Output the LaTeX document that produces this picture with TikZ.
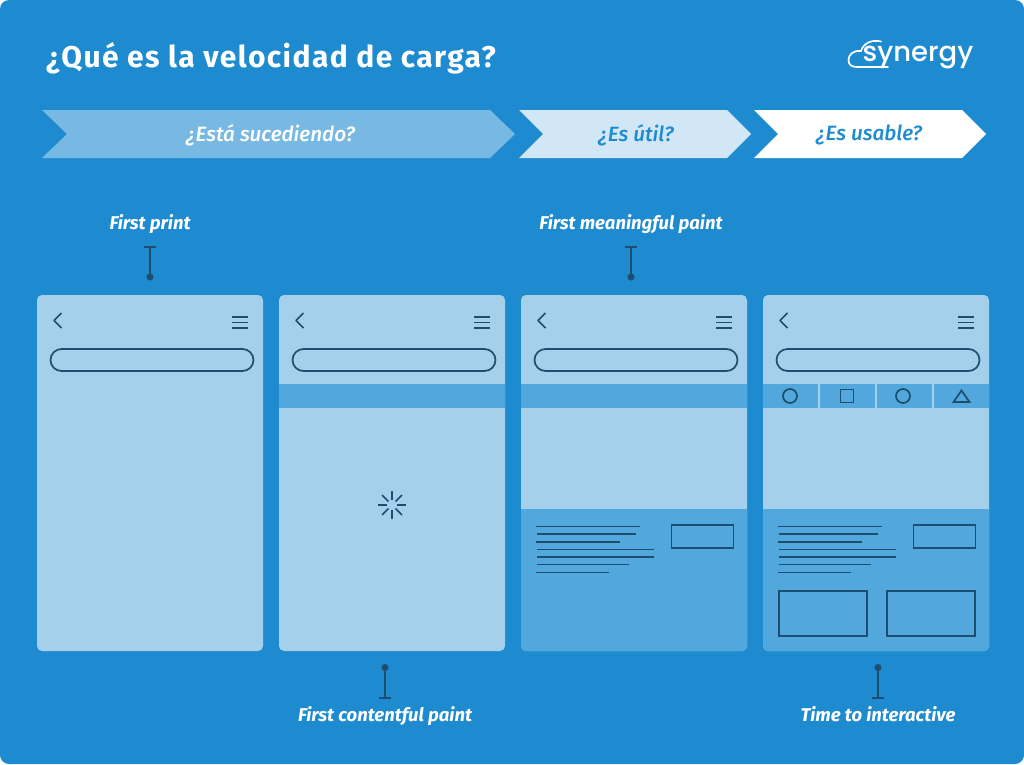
\documentclass[tikz,border=0pt]{standalone}
\usepackage{fontspec}
\setmainfont{Fira Sans}
\newfontfamily\logofont{Poppins Medium}
\newfontfamily\titlefont[LetterSpace=4.7]{Fira Sans}
\newfontfamily\stepfont{Fira Sans Medium}
\usetikzlibrary{arrows.meta,positioning,calc}
\definecolor{bgblue}{HTML}{1E8BD0}
\definecolor{paleblue}{HTML}{A4D0EB}
\definecolor{midblue}{HTML}{52A8DC}
\definecolor{arrowblue}{HTML}{77B9E3}
\definecolor{lightblue}{HTML}{D2E7F6}
\definecolor{inkblue}{HTML}{1D4E70}
\tikzset{
	screenbox/.style={fill=paleblue,rounded corners=5pt,minimum width=226pt,minimum height=356pt,inner sep=0pt,outer sep=0pt},
	ink/.style={draw=inkblue,line width=1.7pt},
	marker/.style={draw=inkblue,line width=1.7pt,{Bar[width=12pt,line width=1.7pt]}-{Circle[length=7pt]}},
	marklabel/.style={text=white,anchor=base,font=\fontsize{18.5}{22}\selectfont\bfseries\itshape},
	steplabel/.style={font=\fontsize{20.7}{24}\selectfont\stepfont\itshape}
}
\begin{document}
\begin{tikzpicture}[x=1pt,y=-1pt]
		% background
		\fill[white] (0,0) rectangle (1024,764);
		\fill[bgblue,rounded corners=9pt] (0,0) rectangle (1024,764);
		\node[text=white,anchor=west,inner sep=0pt,font=\fontsize{30}{36}\selectfont\titlefont\bfseries] (title) at (46,58) {¿Qué es la velocidad de carga?};

		% logo
		\draw[white,line width=1.7pt,line cap=round] (881,41.5) .. controls (871,39) and (863,44) .. (861,51) .. controls (853,50) and (848.5,55) .. (848.5,60) .. controls (848.5,65) and (852,67) .. (857,67) -- (888,67);
		\node[text=white,inner sep=0pt,font=\fontsize{27.5}{30}\selectfont\logofont] (logo) at (918,58) {synergy};

		% steps
		\fill[arrowblue] (42,110) -- (490,110) -- (515,134) -- (490,158) -- (42,158) -- (67,134) -- cycle;
		\fill[lightblue] (519,110) -- (727,110) -- (751,134) -- (727,158) -- (519,158) -- (543,134) -- cycle;
		\fill[white] (754,110) -- (962,110) -- (986,134) -- (962,158) -- (754,158) -- (778,134) -- cycle;
		\node[steplabel,text=white] (step1) at (270.5,135) {¿Está sucediendo?};
		\node[steplabel,text=bgblue] (step2) at (636,135) {¿Es útil?};
		\node[steplabel,text=bgblue] (step3) at (869,135) {¿Es usable?};

		% screens
		\node[screenbox] (s1) at (150,473) {};
		\node[screenbox,right=16pt of s1] (s2) {};
		\node[screenbox,right=16pt of s2] (s3) {};
		\node[screenbox,right=16pt of s3] (s4) {};

		% top bar of each screen
		\foreach \x in {37,279,521,763} {
			\begin{scope}[shift={(\x,295)}]
				\draw[ink,line join=round] (24.5,18) -- (17,25.5) -- (24.5,33);
				\foreach \y in {22,27.5,33}
					\draw[ink] (195,\y) -- (211,\y);
				\draw[ink,rounded corners=11pt] (13.5,54) rectangle (216.5,76);
			\end{scope}
		}

		% bands
		\fill[midblue] (279,384) rectangle (505,408);
		\fill[midblue] (521,384) rectangle (747,408);
		\foreach \a/\b in {763/817.5,820/874.5,877/931.5,934/989}
			\fill[midblue] (\a,384) rectangle (\b,408);
		\foreach \x in {521,763}
			\fill[midblue] (\x,509) -- (\x+226,509) [rounded corners=5pt] -- (\x+226,651) -- (\x,651) [sharp corners] -- cycle;

		% icons
		\draw[ink] (790,396) circle (7);
		\draw[ink] (840.5,389.5) rectangle (853.5,402.5);
		\draw[ink] (903,396) circle (7);
		\draw[ink,line join=miter] (953.5,402) -- (961.5,390.5) -- (969.5,402) -- cycle;

		% spinner
		\foreach \a in {0,45,...,315}
			\draw[ink] ($(392,505)+(\a:5)$) -- ($(392,505)+(\a:14)$);

		% text lines and boxes
		\foreach \x in {0,242} {
			\begin{scope}[shift={(\x,0)}]
				\foreach \s/\e/\y in {536/640/526.5,537/636/534,536/620/542,537/654/549.5,537/654/557,537/629/564.5,536/609/572.5}
					\draw[ink] (\s,\y) -- (\e,\y);
				\draw[ink] (671.5,525) rectangle (733.5,548);
			\end{scope}
		}
		\draw[ink] (779,591) rectangle (867,636);
		\draw[ink] (887,591) rectangle (975,636);

		% markers
		\node[marklabel] (print) at (150,229) {First print};
		\node[marklabel] (meaningful) at (631,229) {First meaningful paint};
		\node[marklabel] (contentful) at (385,721.5) {First contentful paint};
		\node[marklabel] (interactive) at (878,721.5) {Time to interactive};
		\coordinate (print a) at (150,246);
		\coordinate (print b) at (150,280.5);
		\coordinate (meaningful a) at (631,246);
		\coordinate (meaningful b) at (631,280.5);
		\coordinate (contentful a) at (385,698.5);
		\coordinate (contentful b) at (385,664);
		\coordinate (interactive a) at (878,698.5);
		\coordinate (interactive b) at (878,664);
		\draw[marker] (print a) -- (print b);
		\draw[marker] (meaningful a) -- (meaningful b);
		\draw[marker] (contentful a) -- (contentful b);
		\draw[marker] (interactive a) -- (interactive b);
\end{tikzpicture}
\end{document}
